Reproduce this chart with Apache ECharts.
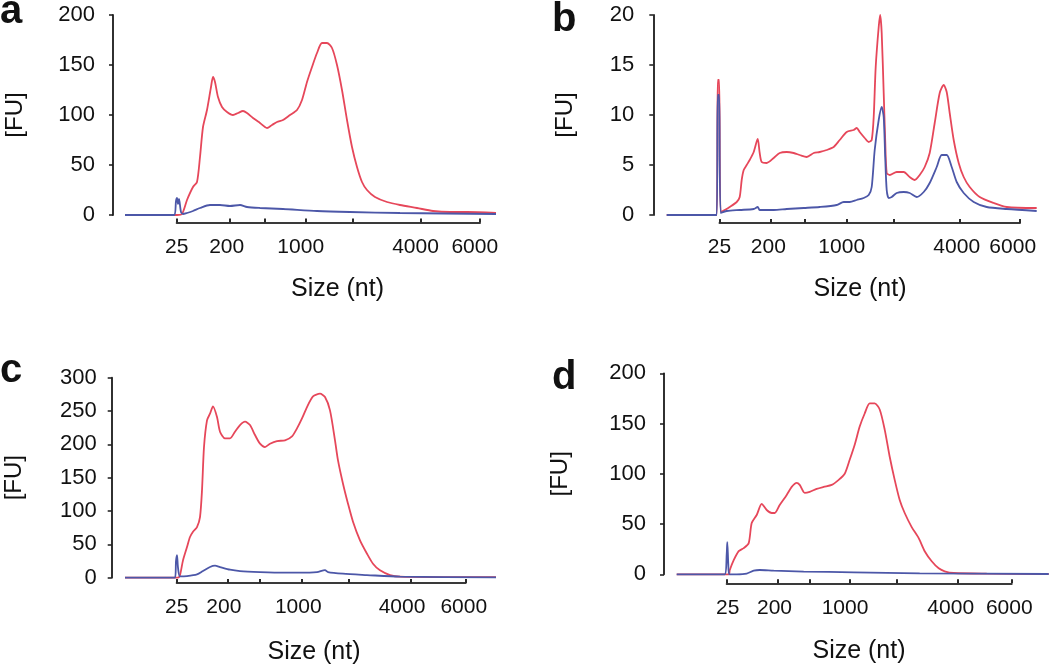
<!DOCTYPE html>
<html>
<head>
<meta charset="utf-8">
<script src="https://cdn.jsdelivr.net/npm/echarts@6/dist/echarts.min.js"></script>
<style>
  html, body { margin: 0; padding: 0; background: #fff; }
  #chart { width: 1050px; height: 666px; }
</style>
</head>
<body>
<div id="chart"></div>
<script>
// x = migration position along the trace, y = fluorescence [FU]
const aRed = [[0,0],[52,0],[57,1],[62,15],[68,28],[72,33],[75,58],[78,88],[82,105],[86,128],[88,138],[90,133],[93,118],[97,108],[102,103],[108,100],[113,102],[118,104],[122,102],[128,97],[135,92],[142,87],[147,90],[152,93],[158,95],[165,100],[172,105],[177,115],[182,133],[187,148],[192,162],[197,172],[202,172],[207,167],[212,150],[217,125],[222,95],[227,68],[232,48],[237,33],[242,25],[250,18],[262,13],[275,10],[292,7],[308,4],[325,3],[342,3],[371,2]]
const aBlue = [[0,0],[49,0],[51,14],[52,17],[53,11],[54,16],[56,3],[58,1],[62,2],[68,4],[75,7],[85,10],[95,10],[105,9],[115,10],[122,8],[135,7],[158,6],[192,4],[225,3],[275,2],[371,1]]

const bRed = [[0,0],[50,0],[51,13.5],[52.5,13.5],[54,0.3],[58,0.5],[63,0.8],[70,1.3],[73,1.8],[75,3.5],[77,4.5],[80,5],[83,5.5],[87,6.3],[91,7.6],[93,6.2],[95,5.3],[100,5.2],[107,5.7],[113,6.2],[120,6.3],[127,6.2],[133,6],[140,5.8],[147,6.2],[153,6.3],[160,6.5],[167,6.8],[173,7.5],[180,8.3],[187,8.5],[190,8.7],[193,8.3],[198,7.7],[202,7.3],[205,7.5],[207,9.8],[209,14.8],[212,18.8],[213.5,20],[215,18.2],[217,12.2],[218.5,7.5],[220,4.2],[223,4],[230,4.3],[237,4.3],[243,3.8],[248,3.5],[253,4],[258,4.8],[263,6.2],[268,9.2],[273,12.2],[277,13],[280,12.3],[283,10.2],[287,7.5],[292,5.2],[297,3.8],[303,2.8],[313,1.8],[327,1.2],[340,0.8],[370,0.7]]
const bBlue = [[0,0],[50,0],[51,12],[52.5,12],[54,0.2],[60,0.4],[73,0.5],[87,0.6],[91,0.8],[93,0.5],[107,0.5],[120,0.6],[137,0.7],[153,0.8],[170,1],[177,1.3],[183,1.3],[190,1.5],[197,1.7],[202,2],[205,2.8],[208,6.5],[212,9.5],[215,10.8],[217,9.8],[218.5,5.8],[220,2.5],[222,1.7],[225,1.8],[230,2.2],[237,2.3],[243,2.2],[250,1.8],[257,2.3],[263,3.2],[270,4.8],[275,6],[280,6],[285,4.8],[290,3.3],[297,2.2],[307,1.3],[320,0.8],[340,0.6],[370,0.4]]

const cRed = [[0,0],[53,0],[55,4],[58,26],[62,46],[65,61],[68,69],[72,76],[75,91],[77,131],[79,196],[82,236],[85,246],[88,257],[92,241],[95,219],[100,209],[105,209],[110,219],[115,229],[120,234],[125,229],[130,214],[135,201],[140,196],[145,201],[152,205],[160,206],[167,212],[172,224],[177,239],[182,256],[188,272],[195,276],[200,271],[205,251],[210,206],[213,176],[218,141],[223,111],[228,84],[235,56],[242,36],[248,21],[255,11],[265,4],[275,1.5],[308,1],[371,1]]
const cBlue = [[0,0],[50,0],[51,25],[52,34],[53,15],[55,2],[62,2.5],[72,5],[78,10],[85,16],[90,18],[95,16],[105,12],[115,10],[135,8.5],[158,7.5],[175,7.5],[192,8.5],[200,11.5],[203,8.5],[218,6],[242,4],[275,1.5],[371,0.5]]

const dRed = [[0,0],[52,0],[53,4],[57,14],[62,23],[67,26],[72,31],[75,51],[80,59],[85,70],[90,64],[95,61],[98,61],[103,69],[110,79],[115,87],[120,91],[123,89],[128,81],[133,82],[140,85],[147,87],[155,89],[162,94],[168,100],[173,114],[178,129],[183,147],[188,160],[193,170],[198,170],[203,164],[208,144],[213,117],[218,94],[223,74],[228,61],[235,47],[242,36],[248,23],[255,13],[262,6],[268,3],[277,1.3],[310,0.7],[372,0.3]]
const dBlue = [[0,0],[48,0],[50,20],[50.6,32],[51.6,10],[52.6,0],[60,0],[70,0.7],[77,3.6],[83,4.3],[97,3.6],[127,2.7],[177,2],[243,1],[372,0.3]]

// size ladder: ticks at every marker, labels only on some
const ladderSizes = [25, 200, 500, 1000, 2000, 4000, 6000]
const sizeLabels = ['25', '200', '1000', '4000', '6000']
const aTicks = [51.7, 104.3, 139.3, 180.7, 227.7, 295.7, 355]
const bTicks = [52.8, 104.3, 138, 180, 226.6, 293, 353.3]
const cTicks = [51.7, 102.7, 135, 176.7, 223.3, 286, 340.7]
const dTicks = [50, 100.6, 132.6, 172.6, 220, 281, 335]
const aLabelPos = [51.7, 101.7, 175.7, 290.5, 349.8]
const bLabelPos = [52.8, 101.6, 175, 290, 346]
const cLabelPos = [51.7, 98.8, 173.3, 277, 338.8]
const dLabelPos = [51, 97.8, 168.3, 274, 332.6]

const yMaxes = [200, 20, 300, 200]
const ySteps = [50, 5, 50, 50]

const RED = '#e6475a'
const BLUE = '#4c57a8'
const FONT = 'Liberation Sans, Arial, Helvetica, sans-serif'

// left = where the trace starts, axisGap = distance back to the y axis line
const panels = [
  { letter: 'a', red: aRed, blue: aBlue, ticks: aTicks, labelPos: aLabelPos,
    left: 125, top: 15, width: 371, height: 200, axisGap: 12, labelMargin: 18, nameGap: 86, ladderY: 222.5,
    titleX: 337.5, titleY: 289, letterX: 0, letterY: 12 },
  { letter: 'b', red: bRed, blue: bBlue, ticks: bTicks, labelPos: bLabelPos,
    left: 666.7, top: 15, width: 370, height: 200, axisGap: 13.4, labelMargin: 19, nameGap: 75.5, ladderY: 223,
    titleX: 860, titleY: 289, letterX: 552, letterY: 20 },
  { letter: 'c', red: cRed, blue: cBlue, ticks: cTicks, labelPos: cLabelPos,
    left: 125, top: 377.7, width: 371, height: 200, axisGap: 13.3, labelMargin: 15, nameGap: 85.5, ladderY: 583,
    titleX: 314, titleY: 652, letterX: 0, letterY: 371 },
  { letter: 'd', red: dRed, blue: dBlue, ticks: dTicks, labelPos: dLabelPos,
    left: 676.7, top: 373.3, width: 372, height: 201, axisGap: 12.7, labelMargin: 18, nameGap: 92, ladderY: 583.3,
    titleX: 859, titleY: 651, letterX: 552, letterY: 378 },
]

function buildOption() {
  const grid = []
  const xAxis = []
  const yAxis = []
  const series = []
  const graphic = []

  panels.forEach((p, i) => {
    const g = i * 2
    const first = p.ticks[0]
    const last = p.ticks[p.ticks.length - 1]

    // main plot grid starts at the y axis line; x runs from -axisGap so data 0 sits at the trace start
    grid.push({ left: p.left - p.axisGap, top: p.top, width: p.width + p.axisGap, height: p.height, outerBoundsMode: 'none' })
    grid.push({ left: p.left + first, top: p.ladderY - 1, width: last - first, height: 1, outerBoundsMode: 'none' })

    xAxis.push({ gridIndex: g, type: 'value', min: -p.axisGap, max: p.width, show: false })
    xAxis.push({
      gridIndex: g + 1,
      type: 'value',
      min: first,
      max: last,
      axisLine: { show: true, onZero: false, lineStyle: { color: '#3a3a3a', width: 2 } },
      axisTick: { show: true, inside: true, length: 4, customValues: p.ticks, lineStyle: { color: '#2a2a2a', width: 2 } },
      axisLabel: {
        show: true,
        customValues: p.labelPos,
        margin: 14,
        fontSize: 21,
        fontFamily: FONT,
        color: '#111',
        formatter: (v) => {
          let k = 0
          p.labelPos.forEach((x, j) => { if (Math.abs(x - v) < Math.abs(p.labelPos[k] - v)) k = j })
          return sizeLabels[k]
        },
      },
      splitLine: { show: false },
    })

    yAxis.push({
      gridIndex: g,
      type: 'value',
      min: 0,
      max: yMaxes[i],
      interval: ySteps[i],
      name: '[FU]',
      nameLocation: 'middle',
      nameGap: p.nameGap,
      nameTextStyle: { fontSize: 24, fontFamily: FONT, color: '#111' },
      // keep the line on the grid edge, not at x = 0
      axisLine: { show: true, onZero: false, lineStyle: { color: '#1a1a1a', width: 1.8 } },
      axisTick: { show: true, length: 4, lineStyle: { color: '#1a1a1a', width: 1.5 } },
      axisLabel: { fontSize: 22, fontFamily: FONT, color: '#111', margin: p.labelMargin },
      splitLine: { show: false },
    })
    yAxis.push({ gridIndex: g + 1, type: 'value', show: false })

    series.push({
      type: 'line', xAxisIndex: g, yAxisIndex: g, data: p.red,
      showSymbol: false, smooth: 0.25, clip: false,
      lineStyle: { color: RED, width: 1.8 }, itemStyle: { color: RED },
    })
    series.push({
      type: 'line', xAxisIndex: g, yAxisIndex: g, data: p.blue,
      showSymbol: false, smooth: 0.25, clip: false,
      lineStyle: { color: BLUE, width: 1.8 }, itemStyle: { color: BLUE },
    })

    graphic.push({
      type: 'text', x: p.letterX, y: p.letterY,
      style: { text: p.letter, font: 'bold 40px ' + FONT, fill: '#111', textAlign: 'left', textVerticalAlign: 'middle' },
    })
    graphic.push({
      type: 'text', x: p.titleX, y: p.titleY,
      style: { text: 'Size (nt)', font: '25px ' + FONT, fill: '#111', textAlign: 'center', textVerticalAlign: 'middle' },
    })
  })

  return { animation: false, backgroundColor: '#fff', grid, xAxis, yAxis, series, graphic }
}

const chart = echarts.init(document.getElementById('chart'), null, { renderer: 'canvas' })
chart.setOption(buildOption())
</script>
</body>
</html>
